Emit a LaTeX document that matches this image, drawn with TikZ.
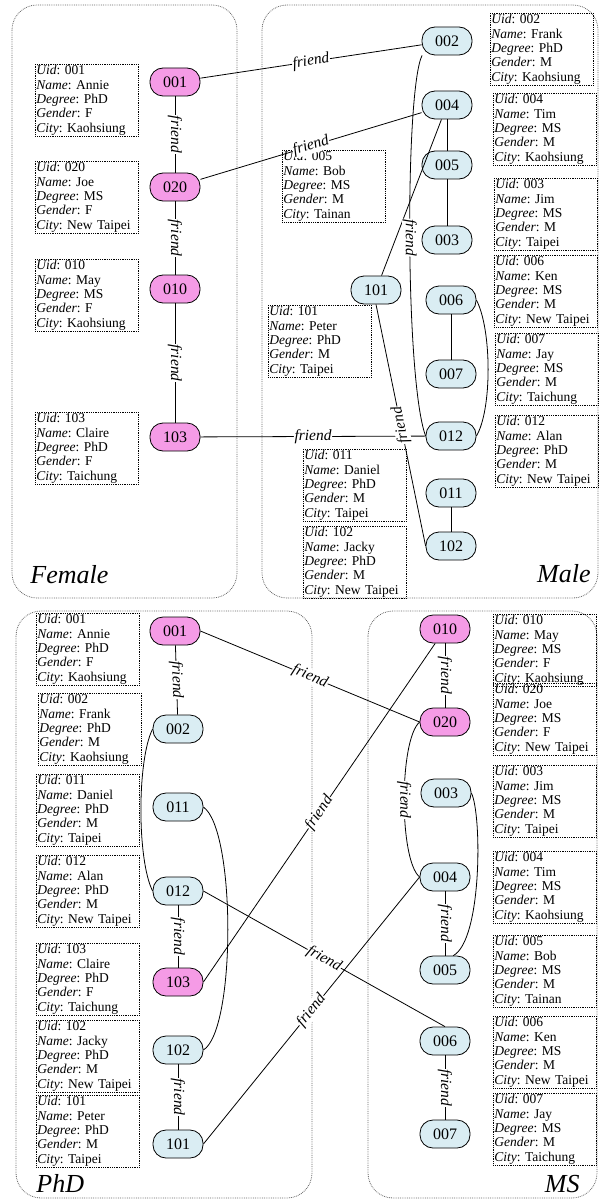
\documentclass[tikz,border=0pt]{standalone}
\usepackage{fontspec}
\setmainfont{Liberation Serif}
\frenchspacing
\definecolor{nodepink}{RGB}{245,155,230}
\definecolor{nodeblue}{RGB}{218,237,243}
\newcommand{\info}[5]{\textit{Uid}: #1\\\textit{Name}: #2\\\textit{Degree}: #3\\\textit{Gender}: #4\\\textit{City}: #5}
\begin{document}
\begin{tikzpicture}[x=1pt,y=-1pt,
  cluster/.style={draw=black!60, densely dotted, rounded corners=25pt},
  infobox/.style={draw, densely dotted, anchor=north west, align=left, text width=101pt, inner sep=1pt, font=\fontsize{13.5}{14.4}\selectfont},
  pinknode/.style={draw, fill=nodepink, rounded corners=13pt, minimum width=50pt, minimum height=28pt, inner sep=1pt, font=\fontsize{16}{16}\selectfont},
  bluenode/.style={pinknode, fill=nodeblue},
  lbl/.style={fill=white, inner sep=0.5pt, sloped, font=\itshape\fontsize{15.5}{15.5}\selectfont},
  grp/.style={inner sep=0pt, font=\itshape\fontsize{26}{26}\selectfont},
  every path/.style={line width=0.8pt}]
\useasboundingbox (0,0) rectangle (602,1201);

% clusters
\draw[cluster] (12,5) rectangle (237,598);
\draw[cluster] (262,5) rectangle (598,598);
\draw[cluster] (16,611) rectangle (312,1198);
\draw[cluster] (368,611) rectangle (597,1198);
\node[grp, anchor=base west] (gfemale) at (30,583) {Female};
\node[grp, anchor=base east] (gmale) at (591,582) {Male};
\node[grp, anchor=base west] (gphd) at (36,1192) {PhD};
\node[grp, anchor=base east] (gms) at (580,1192) {MS};

% top: gender
\node[pinknode] (f001) at (175,82) {001};
\node[pinknode] (f020) at (175,187) {020};
\node[pinknode] (f010) at (175,289) {010};
\node[pinknode] (f103) at (175,437) {103};
\node[bluenode] (m002) at (447,41) {002};
\node[bluenode] (m004) at (447,105) {004};
\node[bluenode] (m005) at (447,165) {005};
\node[bluenode] (m003) at (447,240) {003};
\node[bluenode] (m101) at (376,290) {101};
\node[bluenode] (m006) at (451,300) {006};
\node[bluenode] (m007) at (451,374) {007};
\node[bluenode] (m012) at (451,436) {012};
\node[bluenode] (m011) at (451,493) {011};
\node[bluenode] (m102) at (451,546) {102};

\node[infobox] (if001) at (35,64) {\info{001}{Annie}{PhD}{F}{Kaohsiung}};
\node[infobox] (if020) at (35,161) {\info{020}{Joe}{MS}{F}{New Taipei}};
\node[infobox] (if010) at (35,259) {\info{010}{May}{MS}{F}{Kaohsiung}};
\node[infobox] (if103) at (35,412) {\info{103}{Claire}{PhD}{F}{Taichung}};
\node[infobox] (im002) at (490,13) {\info{002}{Frank}{PhD}{M}{Kaohsiung}};
\node[infobox] (im004) at (493,93) {\info{004}{Tim}{MS}{M}{Kaohsiung}};
\node[infobox] (im005) at (282,150) {\info{005}{Bob}{MS}{M}{Tainan}};
\node[infobox] (im003) at (494,178) {\info{003}{Jim}{MS}{M}{Taipei}};
\node[infobox] (im006) at (494,255) {\info{006}{Ken}{MS}{M}{New Taipei}};
\node[infobox] (im007) at (495,333) {\info{007}{Jay}{MS}{M}{Taichung}};
\node[infobox] (im012) at (495,415) {\info{012}{Alan}{PhD}{M}{New Taipei}};
\node[infobox] (im101) at (268,305) {\info{101}{Peter}{PhD}{M}{Taipei}};
\node[infobox] (im011) at (303,449) {\info{011}{Daniel}{PhD}{M}{Taipei}};
\node[infobox] (im102) at (303,526) {\info{102}{Jacky}{PhD}{M}{New Taipei}};

\draw (f001) -- node[lbl] {friend} (f020);
\draw (f020) -- node[lbl] {friend} (f010);
\draw (f010) -- node[lbl] {friend} (f103);
\draw (f001) -- node[lbl] {friend} (m002);
\draw (f020) -- node[lbl] {friend} (m004);
\draw (f103) -- node[lbl] {friend} (m012);
\draw (m004) -- (m005);
\draw (m005) -- (m003);
\draw (m101) -- (m004);
\draw (m006) -- (m007);
\draw (m011) -- (m102);
\draw (m002.210) .. controls (405,90) and (405,380) .. node[lbl] {friend} (m012.west);
\draw (m006.east) .. controls (492,330) and (492,410) .. (m012.east);
\draw (m102.west) -- node[lbl, allow upside down] {friend} (m101.south);

% bottom: degree
\node[pinknode] (p001) at (175,631) {001};
\node[bluenode] (p002) at (178,729) {002};
\node[bluenode] (p011) at (178,807) {011};
\node[bluenode] (p012) at (178,891) {012};
\node[pinknode] (p103) at (178,982) {103};
\node[bluenode] (p102) at (178,1050) {102};
\node[bluenode] (p101) at (178,1144) {101};
\node[pinknode] (s010) at (445,629) {010};
\node[pinknode] (s020) at (445,722) {020};
\node[bluenode] (s003) at (446,793) {003};
\node[bluenode] (s004) at (445,877) {004};
\node[bluenode] (s005) at (445,970) {005};
\node[bluenode] (s006) at (445,1041) {006};
\node[bluenode] (s007) at (445,1134) {007};

\node[infobox] (ip001) at (36,613) {\info{001}{Annie}{PhD}{F}{Kaohsiung}};
\node[infobox] (ip002) at (38,693) {\info{002}{Frank}{PhD}{M}{Kaohsiung}};
\node[infobox] (ip011) at (36,774) {\info{011}{Daniel}{PhD}{M}{Taipei}};
\node[infobox] (ip012) at (36,855) {\info{012}{Alan}{PhD}{M}{New Taipei}};
\node[infobox] (ip103) at (36,943) {\info{103}{Claire}{PhD}{F}{Taichung}};
\node[infobox] (ip102) at (36,1020) {\info{102}{Jacky}{PhD}{M}{New Taipei}};
\node[infobox] (ip101) at (36,1095) {\info{101}{Peter}{PhD}{M}{Taipei}};
\node[infobox] (is010) at (493,614) {\info{010}{May}{MS}{F}{Kaohsiung}};
\node[infobox] (is020) at (493,683) {\info{020}{Joe}{MS}{F}{New Taipei}};
\node[infobox] (is003) at (493,765) {\info{003}{Jim}{MS}{M}{Taipei}};
\node[infobox] (is004) at (493,851) {\info{004}{Tim}{MS}{M}{Kaohsiung}};
\node[infobox] (is005) at (493,935) {\info{005}{Bob}{MS}{M}{Tainan}};
\node[infobox] (is006) at (493,1016) {\info{006}{Ken}{MS}{M}{New Taipei}};
\node[infobox] (is007) at (493,1093) {\info{007}{Jay}{MS}{M}{Taichung}};

\draw (p001) -- node[lbl] {friend} (p002);
\draw (p001.east) -- node[lbl] {friend} (s020.west);
\draw (p002.west) .. controls (137,760) and (137,860) .. (p012.west);
\draw (p011.east) .. controls (236,830) and (236,1030) .. (p102.east);
\draw (p012) -- node[lbl] {friend} (p103);
\draw (p012.east) -- node[lbl] {friend} (s006.north);
\draw (p103.east) -- node[lbl] {friend} (s010);
\draw (p101.east) -- node[lbl] {friend} (s004.west);
\draw (p102) -- node[lbl] {friend} (p101);
\draw (s010) -- node[lbl] {friend} (s020);
\draw (s020.west) .. controls (399,740) and (399,860) .. node[lbl] {friend} (s004.west);
\draw (s003.east) .. controls (482,815) and (482,940) .. (s005.60);
\draw (s004) -- node[lbl] {friend} (s005);
\draw (s006) -- node[lbl] {friend} (s007);
\end{tikzpicture}
\end{document}
